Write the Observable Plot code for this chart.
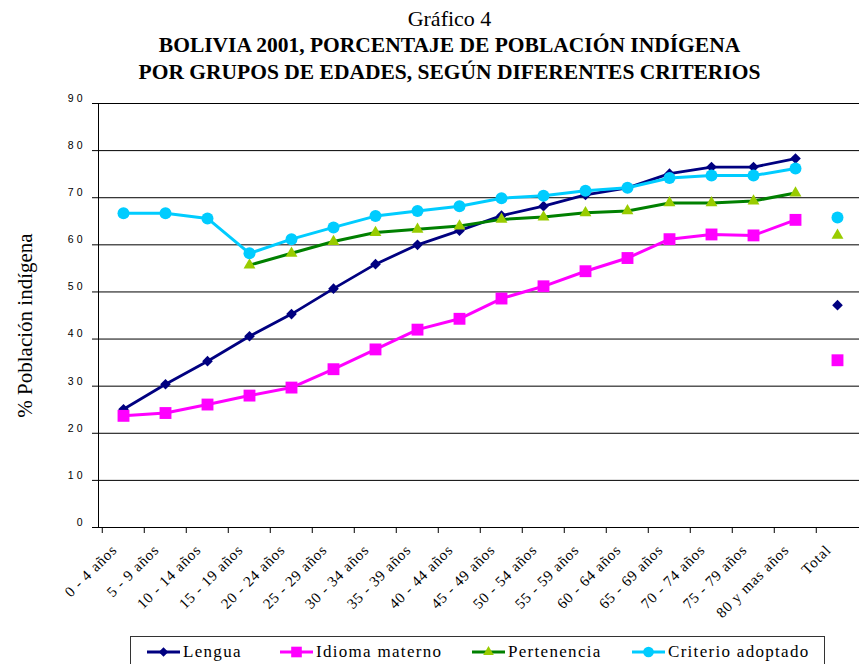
<!DOCTYPE html>
<html><head><meta charset="utf-8">
<script src="https://cdn.jsdelivr.net/npm/d3@7"></script>
<script src="https://cdn.jsdelivr.net/npm/@observablehq/plot@0.6"></script>
<style>
body{margin:0;background:#fff;width:859px;height:664px;overflow:hidden;position:relative;font-family:"Liberation Serif",serif;color:#000}
#title{height:88px;box-sizing:border-box;padding-top:6px;padding-left:40px;text-align:center;font-family:"Liberation Serif",serif}
#title .t0{font-size:22px;line-height:26px}
#title .t1{font-size:21.5px;line-height:26.5px;font-weight:bold}
#chart svg{display:block}
g[aria-label="y-axis tick label"] text{letter-spacing:3px;font-family:"Liberation Sans",sans-serif}
g[aria-label="x-axis tick label"] text{letter-spacing:0.8px;font-family:"Liberation Serif",serif}
g[aria-label="text"] text{font-family:"Liberation Serif",serif}
#legend{position:absolute;left:130px;top:636px;width:695px;height:40px;border:1px solid #333;box-sizing:border-box}
#legend .item{position:absolute;top:4px;display:flex;align-items:center;font-family:"Liberation Serif",serif;font-size:17px;line-height:22px;letter-spacing:1.3px}
#legend svg{display:block;margin-right:3px}
</style></head><body>
<div id="title">
  <div class="t0">Gráfico 4</div>
  <div class="t1">BOLIVIA 2001, PORCENTAJE DE POBLACIÓN INDÍGENA</div>
  <div class="t1">POR GRUPOS DE EDADES, SEGÚN DIFERENTES CRITERIOS</div>
</div>
<div id="chart"></div>
<div id="legend"></div>
<script>
const categories = ["0 - 4 años", "5 - 9 años", "10 - 14 años", "15 - 19 años", "20 - 24 años", "25 - 29 años", "30 - 34 años", "35 - 39 años", "40 - 44 años", "45 - 49 años", "50 - 54 años", "55 - 59 años", "60 - 64 años", "65 - 69 años", "70 - 74 años", "75 - 79 años", "80 y mas años", "Total"];
const lengua      = [25.1, 30.4, 35.3, 40.6, 45.3, 50.7, 55.9, 60.0, 63.0, 66.2, 68.2, 70.6, 72.1, 75.1, 76.5, 76.5, 78.3, 47.2];
const idioma      = [23.7, 24.3, 26.1, 28.0, 29.7, 33.6, 37.8, 42.0, 44.3, 48.6, 51.2, 54.4, 57.2, 61.2, 62.2, 62.0, 65.3, 35.5];
const pertenencia = [null, null, null, 55.7, 58.2, 60.7, 62.6, 63.3, 64.0, 65.4, 65.9, 66.8, 67.2, 68.9, 68.9, 69.3, 71.0, 62.0];
const criterio    = [66.7, 66.7, 65.6, 58.2, 61.2, 63.7, 66.1, 67.2, 68.2, 69.9, 70.4, 71.5, 72.1, 74.2, 74.7, 74.7, 76.2, 65.8];
const seriesNames = ["Lengua", "Idioma materno", "Pertenencia", "Criterio adoptado"];
const yTicks = [0, 10, 20, 30, 40, 50, 60, 70, 80, 90];
const yLabel = "% Población indígena";

const seriesValues = [lengua, idioma, pertenencia, criterio];
const lineColors = ["#000080", "#FF00FF", "#008000", "#00CCFF"];
const markColors = ["#000080", "#FF00FF", "#99CC00", "#00CCFF"];
const symbols = ["diamond2", "square", "triangle", "circle"];
const radii = [4.8, 6.7, 4.4, 6];
const lineWidths = [2.8, 3, 3, 3];

const rows = seriesNames.flatMap((s, i) => categories.map((c, j) => ({serie: s, cat: c, value: seriesValues[i][j]})));

const left = 98, xEnd = 862;
const bw = (xEnd - left) / categories.length;

const marks = [
  Plot.gridY(yTicks, {stroke: "#000", strokeOpacity: 1, strokeWidth: 1}),
  Plot.frame({anchor: "left", stroke: "#000"}),
  Plot.ruleY([0], {stroke: "#000"}),
  Plot.axisY(yTicks, {tickSize: 6, text: null, label: null, stroke: "#000"}),
  Plot.axisY(yTicks, {tickSize: 0, tickPadding: 13, dy: -5, fontSize: 10.5, fontFamily: "Liberation Sans", label: null}),
  Plot.axisX(categories, {tickSize: 6, text: null, label: null, dx: -bw / 2, stroke: "#000"}),
  Plot.axisX(categories, {tickSize: 0, tickRotate: -45, tickPadding: 20, dx: -9, fontSize: 15, fontFamily: "Liberation Serif", label: null}),
  Plot.text([yLabel], {frameAnchor: "left", textAnchor: "middle", rotate: -90, dx: -73, dy: 10, fontSize: 21, fontFamily: "Liberation Serif", fill: "#000"})
];
seriesNames.forEach((s, i) => {
  const d = rows.filter(r => r.serie === s);
  marks.push(Plot.line(d.filter(r => r.cat !== "Total"), {x: "cat", y: "value", stroke: lineColors[i], strokeWidth: lineWidths[i]}));
  marks.push(Plot.dot(d, {x: "cat", y: "value", symbol: symbols[i], r: radii[i], fill: markColors[i], stroke: "none"}));
});

const chart = Plot.plot({
  width: 859, height: 545,
  marginLeft: left, marginRight: 0, marginTop: 15, marginBottom: 106,
  x: {type: "band", domain: categories, range: [left, xEnd], padding: 0},
  y: {domain: [0, 90]},
  style: {background: "#fff", color: "#000", fontFamily: "Liberation Serif", overflow: "visible"},
  marks
});
document.getElementById("chart").appendChild(chart);

// legend
const swX = [147, 280, 472, 632];
const legend = d3.select("#legend");
const symMap = {diamond2: d3.symbolDiamond2, square: d3.symbolSquare, triangle: d3.symbolTriangle, circle: d3.symbolCircle};
seriesNames.forEach((name, i) => {
  const item = legend.append("div").attr("class", "item").style("left", (swX[i] - 131) + "px");
  const svg = item.append("svg").attr("width", 33).attr("height", 16);
  svg.append("line").attr("x1", 0).attr("x2", 33).attr("y1", 8).attr("y2", 8)
    .attr("stroke", lineColors[i]).attr("stroke-width", lineWidths[i]);
  svg.append("path").attr("transform", "translate(16.5,8)")
    .attr("d", d3.symbol(symMap[symbols[i]], radii[i] * radii[i] * Math.PI * 0.8)())
    .attr("fill", markColors[i]);
  item.append("span").text(name);
});
</script>
</body></html>
